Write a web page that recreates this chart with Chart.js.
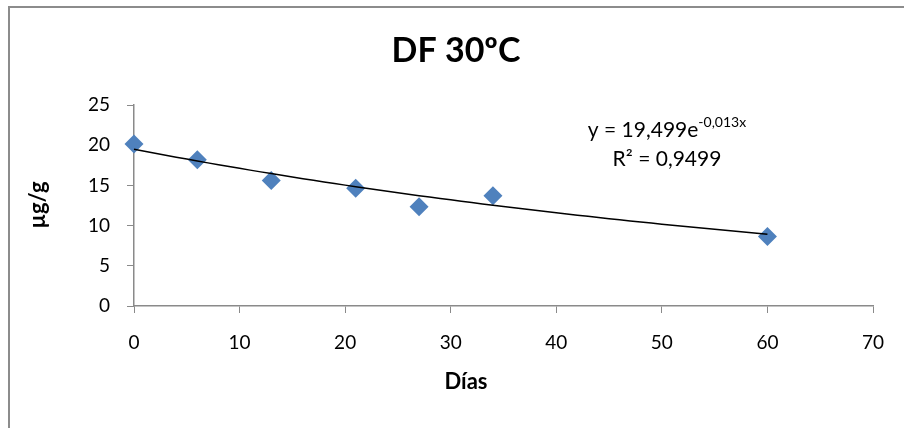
<!DOCTYPE html>
<html>
<head>
<meta charset="utf-8">
<script src="https://cdn.jsdelivr.net/npm/chart.js@4.4.1/dist/chart.umd.min.js"></script>
<style>
  html, body { margin: 0; padding: 0; background: #fff; overflow: hidden; }
  #wrap { width: 904px; height: 428px; }
</style>
</head>
<body>
<div id="wrap"><canvas id="chart" width="904" height="428"></canvas></div>
<script>
// sampling days and measured concentration
const dias = [0, 6, 13, 21, 27, 34, 60];
const concentracion = [20.15, 18.2, 15.6, 14.65, 12.35, 13.7, 8.65];

// exponential trendline y = a * e^(k x)
const trendA = 19.499;
const trendK = -0.013;
const trendR2 = 0.9499;

const xTicks = [0, 10, 20, 30, 40, 50, 60, 70];
const yTicks = [0, 5, 10, 15, 20, 25];

const FONT = 'Lato, "Open Sans", sans-serif';
const AXIS_GREY = '#8a8a8a';
const BLUE = '#4F81BD';

function fmt(n) {
    return String(n).replace('.', ',');
}

// curve points along the data range
const trendX = [];
for (let x = dias[0]; x <= dias[dias.length - 1]; x += 1) trendX.push(x);
const trendPts = trendX.map(x => ({ x: x, y: trendA * Math.exp(trendK * x) }));

const textPlugin = {
    id: 'textos',
    beforeDraw(chart) {
        const ctx = chart.ctx;
        ctx.save();
        ctx.strokeStyle = '#8c8c8c';
        ctx.lineWidth = 2;
        ctx.beginPath();
        ctx.moveTo(9, 440);
        ctx.lineTo(9, 7);
        ctx.lineTo(910, 7);
        ctx.stroke();
        ctx.restore();
    },
    afterDraw(chart) {
        const ctx = chart.ctx;
        ctx.save();
        ctx.fillStyle = '#000';
        ctx.textAlign = 'center';
        ctx.textBaseline = 'middle';

        ctx.font = 'bold 34px ' + FONT;
        ctx.fillText('DF 30ºC', 456, 51);

        ctx.font = 'bold 22px ' + FONT;
        ctx.fillText('Días', 466, 382);

        ctx.save();
        ctx.translate(38, 205);
        ctx.rotate(-Math.PI / 2);
        ctx.fillText('µg/g', 0, 0);
        ctx.restore();

        // trendline equation
        ctx.textBaseline = 'alphabetic';
        const main = 'y = ' + fmt(trendA) + 'e';
        const sup = fmt(trendK) + 'x';
        ctx.font = '21px ' + FONT;
        const wMain = ctx.measureText(main).width;
        ctx.font = '14px ' + FONT;
        const wSup = ctx.measureText(sup).width;
        const cx = 667;
        const left = cx - (wMain + wSup) / 2;
        ctx.textAlign = 'left';
        ctx.font = '21px ' + FONT;
        ctx.fillText(main, left, 137);
        ctx.font = '14px ' + FONT;
        ctx.fillText(sup, left + wMain, 127);

        ctx.textAlign = 'center';
        ctx.font = '21px ' + FONT;
        ctx.fillText('R² = ' + fmt(trendR2), cx, 166);
        ctx.restore();
    }
};

new Chart(document.getElementById('chart').getContext('2d'), {
    type: 'scatter',
    data: {
        datasets: [
            {
                type: 'line',
                label: 'Exponencial',
                data: trendPts,
                borderColor: '#000',
                borderWidth: 1.5,
                pointRadius: 0,
                fill: false,
                tension: 0,
                clip: false,
                order: 0
            },
            {
                label: 'DF 30ºC',
                data: dias.map((d, i) => ({ x: d, y: concentracion[i] })),
                pointStyle: 'rectRot',
                pointRadius: 9.5,
                backgroundColor: BLUE,
                borderColor: BLUE,
                borderWidth: 0,
                clip: false,
                order: 1
            }
        ]
    },
    options: {
        responsive: false,
        animation: false,
        layout: { padding: { left: 0, top: 105, right: 31, bottom: 0 } },
        plugins: {
            legend: { display: false },
            title: { display: false },
            tooltip: { enabled: false }
        },
        scales: {
            x: {
                type: 'linear',
                min: 0,
                max: 70,
                afterBuildTicks: s => { s.ticks = xTicks.map(v => ({ value: v })); },
                afterFit: s => { s.height = 122; },
                grid: { drawOnChartArea: false, tickLength: 7, color: AXIS_GREY, lineWidth: 1 },
                border: { color: AXIS_GREY, width: 1.5 },
                ticks: { color: '#000', padding: 18, font: { family: FONT, size: 19 } }
            },
            y: {
                type: 'linear',
                min: 0,
                max: 25,
                afterBuildTicks: s => { s.ticks = yTicks.map(v => ({ value: v })); },
                afterFit: s => { s.width = 134; },
                grid: { drawOnChartArea: false, tickLength: 7, color: AXIS_GREY, lineWidth: 1 },
                border: { color: AXIS_GREY, width: 1.5 },
                ticks: { color: '#000', padding: 17, font: { family: FONT, size: 19 } }
            }
        }
    },
    plugins: [textPlugin]
});
</script>
</body>
</html>
